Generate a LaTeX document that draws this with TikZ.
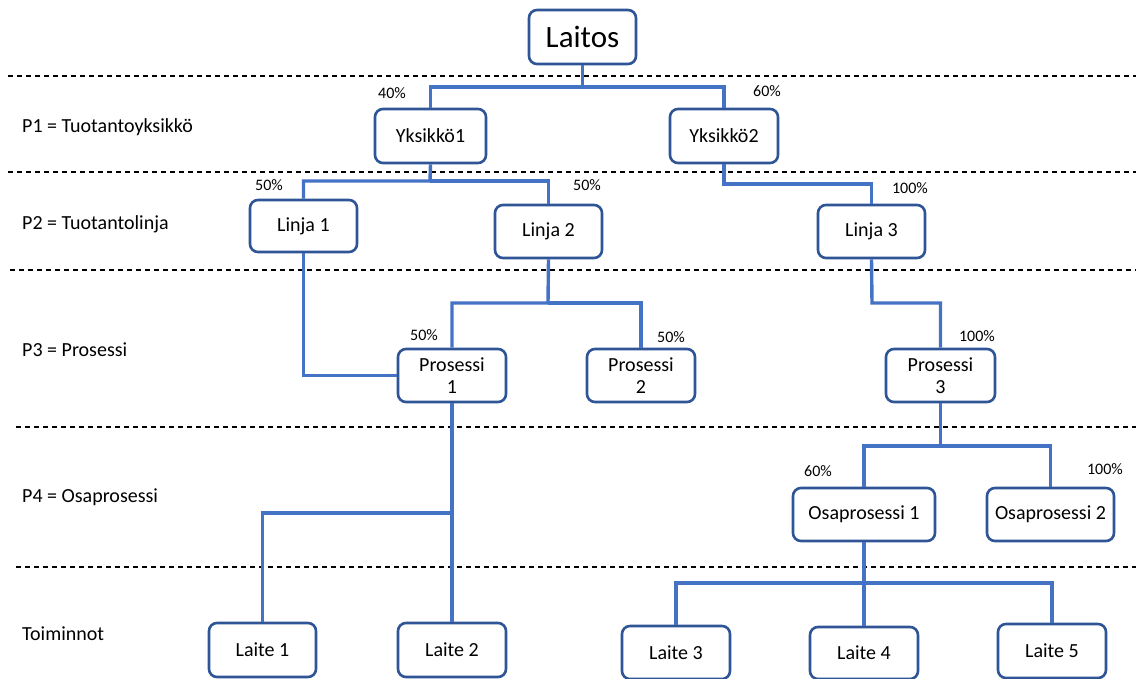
\documentclass[tikz,border=0pt]{standalone}
\usepackage{fontspec}
\setmainfont{Carlito}
\begin{document}
\begin{tikzpicture}[x=1pt,y=-1pt,
  box/.style={draw=boxblue, line width=2.6pt, rounded corners=8pt, fill=white, font=\fontsize{20}{22}\selectfont, align=center, inner sep=2pt},
  conn/.style={draw=connblue, line width=3.4pt},
  pct/.style={font=\fontsize{16}{18}\selectfont, inner sep=0pt},
  lvl/.style={font=\fontsize{20}{22}\selectfont, anchor=west, inner sep=0pt},
  sep/.style={draw=black, line width=1.1pt, dash pattern=on 5pt off 4pt}]
\definecolor{boxblue}{HTML}{2F5597}
\definecolor{connblue}{HTML}{4472C4}
\useasboundingbox (0,0) rectangle (1136,679);
\fill[white] (0,0) rectangle (1136,679);

% separators
\draw[sep] (8,76) -- (1136,76);
\draw[sep] (8,172) -- (1136,172);
\draw[sep] (10,270) -- (1136,270);
\draw[sep] (16,427) -- (1136,427);
\draw[sep] (16,567) -- (1136,567);

% level labels
\node[lvl] (lv1) at (22,127) {P1 = Tuotantoyksikkö};
\node[lvl] (lv2) at (22,224) {P2 = Tuotantolinja};
\node[lvl] (lv3) at (22,350) {P3 = Prosessi};
\node[lvl] (lv4) at (22,497) {P4 = Osaprosessi};
\node[lvl] (lv5) at (22,634) {Toiminnot};

% junction coordinates
\coordinate (j0) at (582.5,87);
\coordinate (j1) at (430,181);
\coordinate (j2) at (724,184);
\coordinate (j3) at (548,303);
\coordinate (j4) at (872,303);
\coordinate (j5) at (452,513);
\coordinate (j6) at (940.5,446);
\coordinate (j7) at (864,583);

% boxes
\node[box, minimum width=107, minimum height=54, font=\fontsize{31}{34}\selectfont] (laitos) at (582.5,37) {Laitos};
\node[box, minimum width=111, minimum height=54] (y1) at (430.5,136) {Yksikkö1};
\node[box, minimum width=108, minimum height=54] (y2) at (724,136) {Yksikkö2};
\node[box, minimum width=107, minimum height=52] (l1) at (303.5,226) {Linja 1};
\node[box, minimum width=107, minimum height=53] (l2) at (548.5,231.5) {Linja 2};
\node[box, minimum width=107, minimum height=53] (l3) at (871.5,231.5) {Linja 3};
\node[box, minimum width=108, minimum height=53, inner sep=0pt] (p1) at (452,375.5) {Prosessi\\1};
\node[box, minimum width=108, minimum height=53, inner sep=0pt] (p2) at (641,375.5) {Prosessi\\2};
\node[box, minimum width=109, minimum height=53, inner sep=0pt] (p3) at (940.5,375.5) {Prosessi\\3};
\node[box, minimum width=142, minimum height=53] (o1) at (864,514.5) {Osaprosessi 1};
\node[box, minimum width=127, minimum height=53] (o2) at (1050.5,514.5) {Osaprosessi 2};
\node[box, minimum width=107, minimum height=54] (d1) at (262.5,650) {Laite 1};
\node[box, minimum width=108, minimum height=54] (d2) at (452,650) {Laite 2};
\node[box, minimum width=108, minimum height=53] (d3) at (676,652.5) {Laite 3};
\node[box, minimum width=108, minimum height=52] (d4) at (864,653) {Laite 4};
\node[box, minimum width=108, minimum height=54] (d5) at (1052,651) {Laite 5};

% connectors
\draw[conn] (laitos.south) -- (j0) -| (y1.north);
\draw[conn] (j0) -| (y2.north);
\draw[conn] (y1.south) -- (j1) -| (l1.north);
\draw[conn] (j1) -| (l2.north);
\draw[conn] (y2.south) -- (j2) -| (l3.north);
\draw[conn] (l1.south) |- (p1.west);
\draw[conn] (l2.south) -- (j3) -| (p1.north);
\draw[conn] (j3) -| (p2.north);
\draw[conn] (l3.south) -- (j4) -| (p3.north);
\draw[conn] (p1.south) -- (d2.north);
\draw[conn] (j5) -| (d1.north);
\draw[conn] (p3.south) -- (j6) -| (o1.north);
\draw[conn] (j6) -| (o2.north);
\draw[conn] (o1.south) -- (j7) -| (d3.north);
\draw[conn] (j7) -- (d4.north);
\draw[conn] (j7) -| (d5.north);

% percentages
\node[pct] (q1) at (392,93) {40\%};
\node[pct] (q2) at (767,91) {60\%};
\node[pct] (q3) at (269,185) {50\%};
\node[pct] (q4) at (587,185) {50\%};
\node[pct] (q5) at (910,188) {100\%};
\node[pct] (q6) at (424,335) {50\%};
\node[pct] (q7) at (671,337) {50\%};
\node[pct] (q8) at (977,336) {100\%};
\node[pct] (q9) at (818,471) {60\%};
\node[pct] (q10) at (1105,469) {100\%};
\end{tikzpicture}
\end{document}
